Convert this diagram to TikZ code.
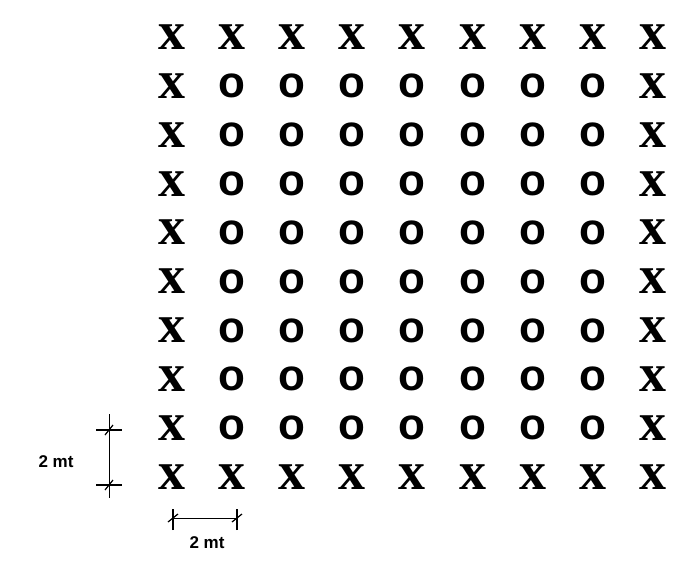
\documentclass[tikz,border=0pt]{standalone}
\usepackage{fontspec}
\setmainfont{Liberation Serif}
\newfontfamily\dimfont{Liberation Sans}
\begin{document}
\begin{tikzpicture}[x=1pt,y=-1pt,
  sym/.style={inner sep=0pt,font=\fontsize{54}{54}\selectfont\bfseries},
  osym/.style={inner sep=0pt,font=\dimfont\fontsize{44}{44}\selectfont\bfseries},
  dimtxt/.style={inner sep=0pt,font=\dimfont\fontsize{17}{17}\selectfont\bfseries},
  dimline/.style={line width=1pt},
  tick/.style={line width=1.2pt}]
\useasboundingbox (0,0) rectangle (685,565);
\foreach \r in {1,...,10}{
  \foreach \c in {1,...,9}{
    \pgfmathsetmacro{\xx}{172+(\c-1)*60.1}
    \pgfmathsetmacro{\yy}{42+(\r-1)*48.9}
    \def\st{sym}\def\s{x}
    \ifnum\r>1 \ifnum\r<10 \ifnum\c>1 \ifnum\c<9 \def\st{osym}\def\s{o}\fi\fi\fi\fi
    \node[\st] (n-\r-\c) at (\xx,\yy-5) {\s};
  }
}
% vertical dimension
\coordinate (vt) at (109,430);
\coordinate (vb) at (109,485);
\coordinate (vtop) at (109,414);
\coordinate (vbot) at (109,498);
\draw[dimline] (vtop) -- (vbot);
\draw[tick] ([xshift=-13]vt) -- ([xshift=13]vt);
\draw[tick] ([xshift=-13]vb) -- ([xshift=13]vb);
\draw[tick] ([xshift=-4,yshift=-5]vt) -- ([xshift=4,yshift=5]vt);
\draw[tick] ([xshift=-4,yshift=-5]vb) -- ([xshift=4,yshift=5]vb);
\node[dimtxt] (vlab) at (56,462) {2 mt};
% horizontal dimension
\coordinate (hl) at (173,518);
\coordinate (hr) at (237,518);
\draw[dimline] (hl) -- (hr);
\draw[tick] ([yshift=-12]hl) -- ([yshift=9]hl);
\draw[tick] ([yshift=-12]hr) -- ([yshift=9]hr);
\draw[tick] ([xshift=-5,yshift=-4]hl) -- ([xshift=5,yshift=4]hl);
\draw[tick] ([xshift=-5,yshift=-4]hr) -- ([xshift=5,yshift=4]hr);
\node[dimtxt] (hlab) at (207,543) {2 mt};
\end{tikzpicture}
\end{document}
